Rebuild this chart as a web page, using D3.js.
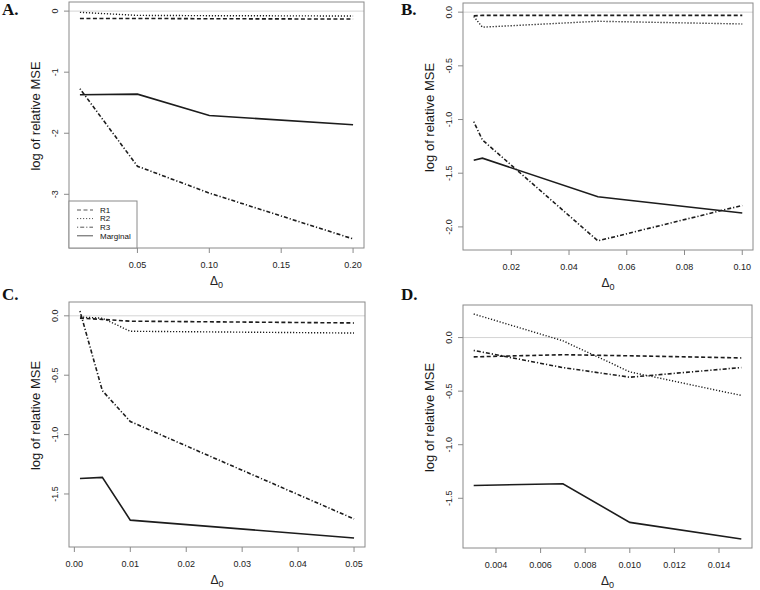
<!DOCTYPE html>
<html>
<head>
<meta charset="utf-8">
<script src="https://cdn.jsdelivr.net/npm/d3@7"></script>
<style>
  body { margin: 0; background: #fff; }
  svg { display: block; }
</style>
</head>
<body>
<div id="chart"></div>
<script>
// values: log of relative MSE per Delta_0
const seriesNames = ["R1", "R2", "R3", "Marginal"];

const deltaA = [0.01, 0.05, 0.10, 0.20];
const r1A = [-0.12, -0.12, -0.125, -0.13];
const r2A = [-0.02, -0.07, -0.075, -0.08];
const r3A = [-1.27, -2.54, -2.98, -3.73];
const margA = [-1.37, -1.36, -1.71, -1.86];

const deltaB = [0.007, 0.01, 0.05, 0.10];
const r1B = [-0.035, -0.03, -0.03, -0.03];
const r2B = [-0.04, -0.14, -0.085, -0.11];
const r3B = [-1.02, -1.19, -2.13, -1.80];
const margB = [-1.38, -1.36, -1.72, -1.87];

const deltaC = [0.001, 0.005, 0.01, 0.05];
const r1C = [-0.02, -0.03, -0.045, -0.06];
const r2C = [-0.01, -0.02, -0.13, -0.145];
const r3C = [0.04, -0.63, -0.89, -1.71];
const margC = [-1.37, -1.36, -1.72, -1.87];

const deltaD = [0.003, 0.007, 0.010, 0.015];
const r1D = [-0.18, -0.16, -0.17, -0.19];
const r2D = [0.22, -0.03, -0.32, -0.54];
const r3D = [-0.12, -0.28, -0.37, -0.28];
const margD = [-1.38, -1.365, -1.725, -1.88];

const xTicksA = [0.05, 0.10, 0.15, 0.20];
const xTicksB = [0.02, 0.04, 0.06, 0.08, 0.10];
const xTicksC = [0.00, 0.01, 0.02, 0.03, 0.04, 0.05];
const xTicksD = [0.004, 0.006, 0.008, 0.010, 0.012, 0.014];
const yTicksA = [0, -1, -2, -3];
const yTicksB = [0, -0.5, -1, -1.5, -2];
const yTicksCD = [0, -0.5, -1, -1.5];

// line type per series (R: lty 2, 3, 4, 1)
const dash = { R1: "4,2.5", R2: "1.2,1.8", R3: "1.2,2,4,2", Marginal: null };

const width = 760, height = 590;
const svg = d3.select("#chart").append("svg")
  .attr("width", width).attr("height", height)
  .style("font-family", "'Liberation Sans', Arial, sans-serif");

// plain hyphen as minus, like R
const fmt = (spec) => (v) => d3.format(spec)(v).replace("\u2212", "-");

const panels = [
  { label: "A.", box: [69, 2, 364, 248], x: deltaA, ys: [r1A, r2A, r3A, margA],
    xTicks: xTicksA, xFmt: fmt(".2f"), yTicks: yTicksA, yFmt: fmt("d"), legend: true },
  { label: "B.", box: [463, 3, 753, 250], x: deltaB, ys: [r1B, r2B, r3B, margB],
    xTicks: xTicksB, xFmt: fmt(".2f"), yTicks: yTicksB, yFmt: fmt(".1f") },
  { label: "C.", box: [69, 302, 365, 547], x: deltaC, ys: [r1C, r2C, r3C, margC],
    xTicks: xTicksC, xFmt: fmt(".2f"), yTicks: yTicksCD, yFmt: fmt(".1f") },
  { label: "D.", box: [463, 305, 752, 548], x: deltaD, ys: [r1D, r2D, r3D, margD],
    xTicks: xTicksD, xFmt: fmt(".3f"), yTicks: yTicksCD, yFmt: fmt(".1f") }
];

// R style axis range: data extent (with 0) padded by 4%
function pad(ext) {
  const d = (ext[1] - ext[0]) * 0.04;
  return [ext[0] - d, ext[1] + d];
}

panels.forEach((p) => {
  const [x0, y0, x1, y1] = p.box;
  const allY = p.ys.flat().concat([0]);
  const x = d3.scaleLinear().domain(pad(d3.extent(p.x))).range([x0, x1]);
  const y = d3.scaleLinear().domain(pad(d3.extent(allY))).range([y1, y0]);
  const g = svg.append("g");

  // panel letter
  svg.append("text")
    .attr("x", x0 < 200 ? 2 : 401)
    .attr("y", y0 < 100 ? 15 : 300)
    .style("font-family", "'Liberation Serif', 'Times New Roman', serif")
    .style("font-weight", "bold")
    .style("font-size", "17px")
    .attr("fill", "#111")
    .text(p.label);

  // zero reference line
  g.append("line")
    .attr("x1", x0).attr("x2", x1)
    .attr("y1", y(0)).attr("y2", y(0))
    .attr("stroke", "#d4d4d4").attr("stroke-width", 1);

  // series
  const line = d3.line().x((d) => x(d[0])).y((d) => y(d[1]));
  p.ys.forEach((vals, i) => {
    const name = seriesNames[i];
    g.append("path")
      .datum(p.x.map((v, j) => [v, vals[j]]))
      .attr("d", line)
      .attr("fill", "none")
      .attr("stroke", "#1c1c1c")
      .attr("stroke-width", name === "R2" ? 1.4 : 1.6)
      .attr("stroke-dasharray", dash[name]);
  });

  // frame
  g.append("rect")
    .attr("x", x0).attr("y", y0)
    .attr("width", x1 - x0).attr("height", y1 - y0)
    .attr("fill", "none").attr("stroke", "#8a8a8a").attr("stroke-width", 1);

  // x ticks
  p.xTicks.forEach((t) => {
    g.append("line")
      .attr("x1", x(t)).attr("x2", x(t))
      .attr("y1", y1).attr("y2", y1 + 5)
      .attr("stroke", "#8a8a8a");
    g.append("text")
      .attr("x", x(t)).attr("y", y1 + 20)
      .attr("text-anchor", "middle")
      .style("font-size", "9px").attr("fill", "#222")
      .text(p.xFmt(t));
  });

  // y ticks (labels parallel to the axis)
  p.yTicks.forEach((t) => {
    g.append("line")
      .attr("x1", x0 - 5).attr("x2", x0)
      .attr("y1", y(t)).attr("y2", y(t))
      .attr("stroke", "#8a8a8a");
    g.append("text")
      .attr("transform", `translate(${x0 - 11},${y(t)}) rotate(-90)`)
      .attr("text-anchor", "middle")
      .style("font-size", "9px").attr("fill", "#222")
      .text(p.yFmt(t));
  });

  // axis titles
  g.append("text")
    .attr("transform", `translate(${x0 - 34},${(y0 + y1) / 2 - 9}) rotate(-90)`)
    .attr("text-anchor", "middle")
    .attr("dy", "0.35em")
    .style("font-size", "13px").attr("fill", "#1a1a1a")
    .text("log of relative MSE");

  const xl = g.append("text")
    .attr("x", (x0 + x1) / 2).attr("y", y1 + 37)
    .attr("text-anchor", "middle")
    .attr("fill", "#222");
  xl.append("tspan")
    .style("font-size", "12px")
    .text("Δ");
  xl.append("tspan")
    .attr("dy", 3)
    .style("font-size", "9px")
    .text("0");

  // legend (panel A only)
  if (p.legend) {
    const lx = x0, ly = 201, lw = 68, lh = y1 - ly;
    const leg = g.append("g");
    leg.append("rect")
      .attr("x", lx).attr("y", ly).attr("width", lw).attr("height", lh)
      .attr("fill", "#fff").attr("stroke", "#8a8a8a");
    seriesNames.forEach((name, i) => {
      const yy = ly + 9 + i * 8.6;
      leg.append("line")
        .attr("x1", lx + 8).attr("x2", lx + 24)
        .attr("y1", yy).attr("y2", yy)
        .attr("stroke", "#555").attr("stroke-width", 1)
        .attr("stroke-dasharray", dash[name]);
      leg.append("text")
        .attr("x", lx + 31).attr("y", yy)
        .attr("dy", "0.35em")
        .style("font-size", "8px").attr("fill", "#111")
        .text(name);
    });
  }
});
</script>
</body>
</html>
